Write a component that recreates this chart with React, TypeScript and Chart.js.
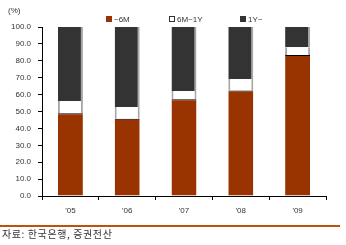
import React, { useEffect, useRef } from "react";
import { Chart, registerables } from "chart.js";

Chart.register(...registerables);

const categories = ["'05", "'06", "'07", "'08", "'09"];
const shortTerm = [49.0, 45.7, 57.3, 62.5, 83.5];
const midTerm = [7.2, 7.0, 4.9, 6.7, 4.5];
const longTerm = [43.8, 47.3, 37.8, 30.8, 12.0];
const yTicks = [0, 10, 20, 30, 40, 50, 60, 70, 80, 90, 100];
const seriesNames = ["~6M", "6M~1Y", "1Y~"];
const unitLabel = "(%)";
const sourceText = "자료: 한국은행, 증권전산";

const FONT = "'Liberation Sans', Arial, sans-serif";

const extrasPlugin = {
  id: "extras",
  afterDraw(chart: any) {
    const ctx = chart.ctx;
    ctx.save();
    ctx.font = `8px ${FONT}`;
    ctx.fillStyle = "#333";
    ctx.textBaseline = "middle";
    ctx.textAlign = "left";
    ctx.fillText(unitLabel, 8, 11);
    const items = [
      { x: 106, fill: "#993300", stroke: null },
      { x: 169, fill: "#ffffff", stroke: "#333" },
      { x: 240, fill: "#333333", stroke: null },
    ];
    items.forEach((it, i) => {
      ctx.fillStyle = it.fill;
      ctx.fillRect(it.x, 16, 6, 6);
      if (it.stroke) {
        ctx.strokeStyle = it.stroke;
        ctx.lineWidth = 1;
        ctx.strokeRect(it.x + 0.5, 16.5, 5, 5);
      }
      ctx.fillStyle = "#333";
      ctx.font = `8px ${FONT}`;
      ctx.fillText(seriesNames[i], it.x + 8, 19.5);
    });
    ctx.fillStyle = "#c0500c";
    ctx.fillRect(0, 225, 340, 2);
    ctx.fillStyle = "#333";
    ctx.font = `10px 'Noto Sans CJK KR', sans-serif`;
    try { (ctx as any).letterSpacing = "0.6px"; } catch (e) {}
    ctx.fillText(sourceText, 2, 234);
    ctx.restore();
  },
};

export default function App() {
  const ref = useRef<HTMLCanvasElement>(null);
  useEffect(() => {
    document.body.style.margin = "0";
    const chart = new Chart(ref.current!, {
      type: "bar",
      data: {
        labels: categories,
        datasets: [
          {
            label: seriesNames[0],
            data: shortTerm,
            backgroundColor: "#993300",
            borderColor: "#000000",
            borderWidth: { top: 1, left: 0, right: 0, bottom: 0 },
            borderSkipped: false,
          },
          {
            label: seriesNames[1],
            data: midTerm,
            backgroundColor: "#ffffff",
            borderColor: "#a6a6a6",
            borderWidth: { top: 0, left: 2, right: 2, bottom: 0 },
            borderSkipped: false,
          },
          {
            label: seriesNames[2],
            data: longTerm,
            backgroundColor: "#333333",
            borderColor: "#a6a6a6",
            borderWidth: { top: 0, left: 0, right: 2, bottom: 0 },
            borderSkipped: false,
          },
        ],
      },
      options: {
        animation: false,
        responsive: false,
        layout: { padding: { top: 27, right: 20, left: 0, bottom: 0 } },
        plugins: { legend: { display: false }, tooltip: { enabled: false } },
        datasets: { bar: { barPercentage: 0.88, categoryPercentage: 0.5 } } as any,
        scales: {
          x: {
            stacked: true,
            offset: true,
            grid: { offset: true, drawOnChartArea: false, drawTicks: true, tickLength: 4, color: "#000" },
            border: { display: true, color: "#000", width: 1 },
            ticks: { color: "#333", font: { family: FONT, size: 8 }, padding: 6, maxRotation: 0 },
            afterFit: (s: any) => { s.height = 49; },
          },
          y: {
            stacked: true,
            min: 0,
            max: 100,
            afterBuildTicks: (s: any) => { s.ticks = yTicks.map((v) => ({ value: v })); },
            grid: { drawOnChartArea: false, drawTicks: true, tickLength: 4, color: "#000" },
            border: { display: true, color: "#000", width: 1 },
            ticks: {
              color: "#333",
              font: { family: FONT, size: 8 },
              padding: 7,
              callback: (v: any) => Number(v).toFixed(1),
            },
            afterFit: (s: any) => { s.width = 42; },
          },
        },
      },
      plugins: [extrasPlugin],
    });
    return () => chart.destroy();
  }, []);
  return (
    <div style={{ position: "relative", width: 346, height: 245 }}>
      <canvas ref={ref} width={346} height={245} style={{ width: 346, height: 245 }} />
    </div>
  );
}
